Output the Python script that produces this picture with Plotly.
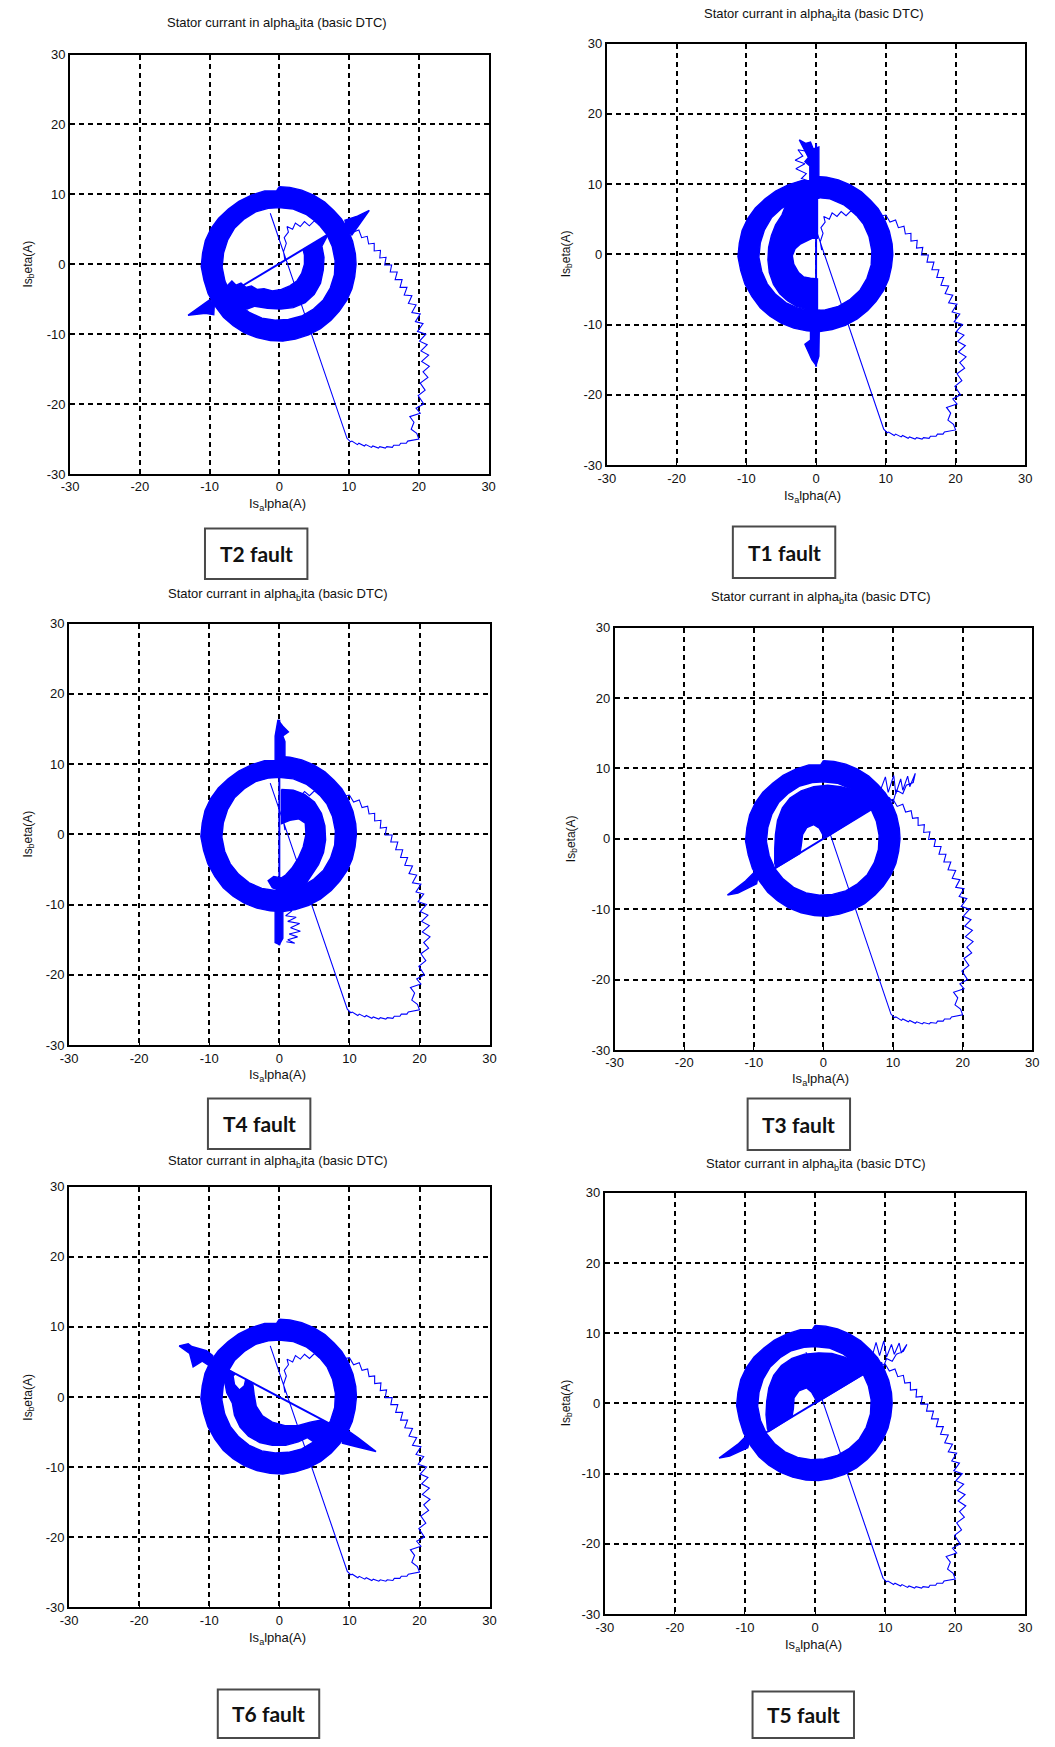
import plotly.graph_objects as go

W, H = 1055, 1747
BLUE = "#0000FF"

TICK_VALS = [-30, -20, -10, 0, 10, 20, 30]
TICK_TEXT = ["-30", "-20", "-10", "0", "10", "20", "30"]
TITLE = "Stator currant in alpha<sub>b</sub>ita (basic DTC)"
XLABEL = "Is<sub>a</sub>lpha(A)"
YLABEL = "Is<sub>b</sub>eta(A)"
FAULTS = ["T2 fault", "T1 fault", "T4 fault", "T3 fault", "T6 fault", "T5 fault"]

# ---- steady-state current band (same flux circle in every case), (alpha, beta) in A ----
RING_OUTER = [(0.0, 11.1), (1.5, 11.0), (3.2, 10.6), (4.9, 9.9), (6.5, 8.9), (7.8, 7.7),
              (8.9, 6.5), (9.8, 5.0), (10.5, 3.3), (10.9, 1.5), (11.0, 0.0), (10.8, -1.8),
              (10.4, -3.5), (9.7, -5.1), (8.6, -6.7), (7.4, -8.0), (5.9, -9.2), (4.2, -10.1),
              (2.3, -10.7), (0.5, -11.0), (-1.3, -10.9), (-3.2, -10.5), (-5.0, -9.8),
              (-6.6, -8.8), (-8.0, -7.6), (-9.2, -6.0), (-10.2, -4.2), (-10.8, -2.3),
              (-11.2, -0.3), (-11.0, 1.6), (-10.6, 3.4), (-9.8, 5.1), (-8.7, 6.6), (-7.3, 7.9),
              (-5.8, 9.0), (-4.0, 9.9), (-2.1, 10.5), (-0.4, 10.5), (0.0, 11.1)]
RING_INNER = [(0.0, 8.1), (2.0, 7.9), (3.9, 7.1), (5.5, 5.9), (6.8, 4.3), (7.6, 2.5), (8.0, 0.5),
              (7.9, -1.5), (7.3, -3.4), (6.3, -5.1), (4.9, -6.4), (3.2, -7.4), (1.3, -7.9),
              (-0.6, -8.0), (-2.5, -7.7), (-4.3, -6.9), (-5.8, -5.7), (-7.0, -4.2), (-7.8, -2.4),
              (-8.2, -0.4), (-8.0, 1.6), (-7.4, 3.5), (-6.4, 5.2), (-5.0, 6.5), (-3.4, 7.5),
              (-1.6, 8.0), (0.0, 8.1)]

# ---- start-up transient (shared) ----
STARTUP = [(0.8, 0.6), (0.6, 1.8), (1.0, 3.0), (0.7, 3.8), (1.3, 4.6), (1.1, 5.4), (1.9, 5.0),
           (2.3, 5.9), (3.0, 5.4), (3.6, 6.1), (4.3, 5.5), (5.0, 6.2), (5.7, 5.6), (6.5, 6.1),
           (7.3, 5.5), (8.2, 6.2), (9.0, 5.4), (10.0, 5.6), (10.6, 4.6), (11.4, 4.9), (11.8, 3.8),
           (12.6, 4.0), (12.8, 2.9), (13.6, 3.0), (13.6, 1.9), (14.5, 2.0), (14.4, 0.9),
           (15.3, 1.0), (15.1, -0.1), (16.1, -0.1), (15.9, -1.1), (16.9, -1.1), (16.6, -2.2),
           (17.6, -2.2), (17.3, -3.3), (18.3, -3.3), (17.9, -4.4), (19.0, -4.5), (18.5, -5.6),
           (19.6, -5.8), (19.0, -6.9), (20.2, -7.1), (19.5, -8.2), (20.6, -8.5), (19.8, -9.6),
           (21.0, -10.0), (20.1, -11.0), (21.2, -11.5), (20.3, -12.4), (21.4, -13.0),
           (20.4, -13.9), (21.5, -14.6), (20.6, -15.4), (21.3, -16.2), (20.2, -17.0),
           (20.9, -18.0), (19.9, -18.8), (20.7, -20.0), (19.6, -20.6), (20.2, -21.3),
           (18.7, -21.8), (19.3, -22.6), (18.9, -23.6), (19.7, -24.2), (20.0, -25.0),
           (19.2, -25.2), (18.4, -25.3), (18.2, -25.6), (17.4, -25.6), (17.2, -25.9),
           (16.4, -25.9), (16.2, -26.2), (15.4, -26.1), (15.2, -26.3), (14.4, -26.1),
           (14.2, -26.3), (13.4, -26.0), (13.2, -26.2), (12.4, -25.8), (12.2, -26.0),
           (11.4, -25.6), (11.2, -25.8), (10.4, -25.3), (10.2, -25.4), (9.7, -24.9), (-1.3, 7.3)]

# ---- T2 open-switch fault ----
T2_BAND = [(6.9, 4.1), (6.1, 2.6), (6.4, 1.0), (6.3, -0.8), (5.9, -2.7), (5.0, -4.3), (3.7, -5.5),
           (2.0, -6.2), (0.2, -6.4), (-1.7, -6.3), (-3.5, -6.0), (-4.6, -6.4), (-5.9, -6.0),
           (-7.1, -4.6), (-7.6, -3.2), (-6.8, -2.4), (-6.2, -3.0), (-5.5, -2.7), (-4.8, -3.3),
           (-4.0, -3.1), (-3.2, -3.6), (-2.2, -3.5), (-1.0, -3.8), (0.3, -3.6), (1.5, -3.1),
           (2.5, -2.4), (3.2, -1.3), (3.6, 0.0), (3.6, 1.3), (3.4, 2.1)]
T2_SPIKE_LOW = [(-13.1, -7.3), (-11.6, -6.2), (-10.0, -5.1), (-9.3, -5.5), (-9.4, -7.2),
                (-10.6, -7.0), (-12.0, -7.2)]
T2_SPIKE_HIGH = [(12.9, 7.7), (11.2, 6.9), (9.4, 6.3), (9.7, 4.8), (10.4, 4.2), (11.6, 5.9)]
T2_LINE = [(-10.0, -5.9), (10.2, 6.2)]

# ---- T1 open-switch fault ----
T1_BAND = [(0.2, 8.4), (-1.5, 8.3), (-3.0, 7.9), (-4.3, 7.1), (-4.9, 5.6), (-5.8, 4.2),
           (-6.4, 2.7), (-6.8, 1.0), (-6.9, -0.8), (-6.7, -2.6), (-6.1, -4.3), (-5.2, -5.6),
           (-4.1, -6.6), (-2.8, -7.4), (-1.3, -7.9), (-0.5, -8.4), (0.2, -8.4), (0.2, -3.5),
           (-0.8, -3.4), (-1.8, -3.2), (-2.5, -2.6), (-3.2, -1.4), (-3.4, -0.2), (-3.0, 0.8),
           (-2.2, 1.5), (-1.2, 2.0), (-0.5, 2.3), (0.2, 2.3)]
T1_BAR_TOP = [(-0.9, 8.0), (-0.9, 12.6), (-1.6, 13.2), (-1.1, 13.8), (-2.4, 16.3), (-1.5, 15.8),
              (-0.8, 16.0), (-0.4, 15.0), (0.4, 15.3), (0.4, 8.0)]
T1_BAR_BOTTOM = [(-0.8, -8.0), (-0.8, -12.2), (-1.6, -12.8), (-1.1, -13.8), (-0.6, -15.0),
                 (0.0, -15.8), (0.4, -14.5), (0.5, -8.0)]
T1_JAG = [(-0.9, 14.6), (-2.6, 14.9), (-1.9, 14.0), (-3.0, 13.4), (-1.6, 12.9), (-2.9, 12.2),
          (-1.4, 11.5), (-2.1, 10.8), (-0.9, 10.4)]
T1_LINE = [(0.0, -16.0), (0.0, 15.8)]

# ---- T4 open-switch fault ----
T4_BAND = [(0.3, 6.4), (2.0, 6.3), (3.6, 5.7), (5.0, 4.6), (6.0, 3.0), (6.5, 1.2), (6.6, -0.8),
           (6.3, -2.6), (5.6, -4.3), (4.6, -5.8), (3.8, -7.0), (2.9, -7.6), (1.2, -8.0),
           (0.3, -8.1), (-1.0, -7.6), (-1.6, -6.6), (-0.8, -6.0), (0.3, -6.2), (0.9, -5.8),
           (1.8, -4.8), (2.7, -3.4), (3.4, -1.8), (3.8, 0.0), (3.7, 1.6), (2.8, 2.2), (1.5, 2.0),
           (0.5, 1.5), (0.3, 1.5)]
T4_BAR_TOP = [(-0.6, 8.5), (-0.6, 14.0), (-0.2, 16.3), (0.5, 15.4), (1.3, 14.6), (0.5, 14.0),
              (0.8, 13.2), (0.8, 8.5)]
T4_BAR_BOTTOM = [(-0.6, -8.5), (-0.6, -15.4), (0.0, -15.7), (0.5, -14.8), (0.5, -8.5)]
T4_JAG = [(0.5, -10.6), (1.8, -10.9), (0.9, -11.6), (2.4, -11.8), (1.2, -12.4), (2.9, -12.7),
          (1.6, -13.3), (3.0, -13.8), (1.4, -14.2), (2.6, -14.6), (1.2, -15.0), (2.2, -15.5),
          (1.0, -15.3)]
T4_LINE = [(0.0, -15.8), (0.0, 16.3)]

# ---- T3 open-switch fault ----
T3_BAND = [(7.0, 4.3), (6.3, 5.2), (5.2, 6.3), (4.0, 7.0), (2.5, 7.4), (0.6, 7.6), (-1.4, 7.4),
           (-3.2, 6.8), (-4.8, 5.8), (-5.9, 4.4), (-6.6, 2.6), (-6.9, 0.6), (-7.0, -1.4),
           (-7.0, -3.5), (-6.8, -4.1), (-3.4, -2.1), (-3.2, -1.0), (-3.0, 0.6), (-2.4, 1.6),
           (-1.4, 2.0), (-0.6, 1.5), (-0.1, 0.6), (0.0, 0.0)]
T3_SPIKE_LOW = [(-13.8, -8.0), (-12.4, -6.9), (-11.2, -6.0), (-10.0, -4.8), (-9.4, -5.3),
                (-9.6, -6.4), (-10.8, -7.0), (-12.3, -7.7)]
T3_JAG = [(8.0, 6.4), (8.9, 8.8), (9.3, 6.6), (10.1, 9.0), (10.4, 6.4), (11.1, 8.5), (11.4, 6.9),
          (12.1, 8.9), (12.4, 7.4), (13.2, 9.3), (12.9, 8.0), (11.9, 7.6), (11.4, 6.4),
          (10.5, 6.9), (10.0, 5.2), (9.2, 6.0), (8.6, 5.4)]
T3_LINE = [(-10.0, -6.0), (9.6, 5.8)]

# ---- T6 open-switch fault ----
T6_BAND = [(-7.3, 3.9), (-7.8, 2.2), (-7.5, 0.6), (-6.7, -0.9), (-6.4, -2.6), (-5.6, -4.3),
           (-4.4, -5.6), (-2.8, -6.5), (-1.0, -6.9), (0.9, -6.9), (2.7, -6.4), (4.0, -5.8),
           (4.9, -6.4), (6.3, -5.1), (7.1, -3.8), (6.0, -3.3), (4.4, -3.6), (2.6, -4.1),
           (0.8, -4.1), (-1.0, -3.6), (-2.4, -2.7), (-3.3, -1.3), (-3.6, 0.4), (-3.8, 2.0),
           (-4.8, 2.5), (-5.0, 1.6), (-5.7, 1.0), (-6.4, 1.8), (-6.6, 3.0), (-6.3, 3.3)]
T6_SPIKE_HIGH = [(-14.3, 7.3), (-13.0, 7.6), (-12.5, 7.2), (-10.4, 6.6), (-9.5, 5.9), (-9.6, 4.2),
                 (-11.0, 5.1), (-12.3, 4.3), (-12.8, 6.2)]
T6_SPIKE_LOW = [(13.8, -7.8), (11.2, -5.8), (9.2, -4.4), (9.0, -6.6), (11.0, -7.1)]
T6_LINE = [(-9.8, 5.2), (9.6, -5.1)]

# ---- T5 open-switch fault ----
T5_BAND = [(7.0, 4.2), (6.5, 5.2), (5.6, 6.0), (4.2, 6.6), (2.4, 7.1), (0.5, 7.2), (-1.5, 7.0),
           (-3.3, 6.4), (-4.8, 5.4), (-5.9, 4.0), (-6.6, 2.2), (-6.9, 0.3), (-7.0, -1.6),
           (-6.8, -3.6), (-6.6, -4.0), (-3.3, -1.9), (-3.1, -0.8), (-3.0, 0.8), (-2.3, 1.8),
           (-1.2, 2.2), (-0.5, 1.6), (0.0, 0.7), (0.2, 0.1)]
T5_SPIKE_LOW = [(-13.7, -7.8), (-12.2, -6.7), (-11.0, -5.8), (-9.9, -4.7), (-9.3, -5.2),
                (-9.6, -6.3), (-10.8, -6.9), (-12.2, -7.5)]
T5_JAG = [(8.1, 6.6), (8.7, 8.7), (9.2, 6.8), (9.8, 8.9), (10.2, 6.6), (10.9, 8.4), (11.3, 7.0),
          (12.0, 8.6), (12.3, 7.2), (13.1, 8.4), (12.6, 7.4), (11.6, 7.0), (11.0, 6.0),
          (10.2, 6.4), (9.6, 4.8), (9.0, 5.6)]
T5_LINE = [(-9.8, -5.8), (9.6, 5.8)]

# fills: solid blue regions; lines: thin trajectory strokes
PANEL_PIECES = [
    dict(fills=[T2_BAND, T2_SPIKE_LOW, T2_SPIKE_HIGH], lines=[T2_LINE], jags=[]),
    dict(fills=[T1_BAND, T1_BAR_TOP, T1_BAR_BOTTOM], lines=[T1_LINE], jags=[T1_JAG]),
    dict(fills=[T4_BAND, T4_BAR_TOP, T4_BAR_BOTTOM], lines=[T4_LINE], jags=[T4_JAG]),
    dict(fills=[T3_BAND, T3_SPIKE_LOW], lines=[T3_LINE], jags=[T3_JAG]),
    dict(fills=[T6_BAND, T6_SPIKE_HIGH, T6_SPIKE_LOW], lines=[T6_LINE], jags=[]),
    dict(fills=[T5_BAND, T5_SPIKE_LOW], lines=[T5_LINE], jags=[T5_JAG]),
]

# page layout in pixels: plot frame (x0, x1, y0, y1), text anchors, caption box
PANEL_LAYOUT = [
    dict(frame=(62, 487, 48, 471), title=(272, 17), xlab=(273, 502), ylab=(20, 259), box=(199, 303, 526, 577)),
    dict(frame=(607, 1032, 37, 462), title=(817, 8), xlab=(816, 494), ylab=(566, 249), box=(735, 839, 524, 576)),
    dict(frame=(61, 488, 622, 1047), title=(273, 593), xlab=(273, 1078), ylab=(20, 834), box=(202, 306, 1101, 1152)),
    dict(frame=(615, 1039, 626, 1052), title=(825, 596), xlab=(824, 1082), ylab=(571, 839), box=(750, 854, 1101, 1153)),
    dict(frame=(61, 488, 1190, 1614), title=(273, 1165), xlab=(273, 1646), ylab=(20, 1402), box=(212, 315, 1697, 1746)),
    dict(frame=(605, 1032, 1196, 1621), title=(819, 1168), xlab=(817, 1653), ylab=(566, 1408), box=(755, 858, 1699, 1746)),
]


def split(pairs):
    return [p[0] for p in pairs], [p[1] for p in pairs]


def band_with_hole(outer, inner):
    # outer boundary clockwise, then inner boundary counter-clockwise -> hollow ring
    return list(outer) + list(reversed(inner)) + [outer[0]]


def px_x(v):
    return v / W


def px_y(v):
    return 1 - v / H


fig = go.Figure()
layout_axes = {}
annotations = []
shapes = []
FONT = "Liberation Sans, Arial, sans-serif"

for k, (pieces, pl) in enumerate(zip(PANEL_PIECES, PANEL_LAYOUT)):
    sfx = "" if k == 0 else str(k + 1)
    xa, ya = "x" + sfx, "y" + sfx

    def add(pairs, fill, width):
        a, b = split(pairs)
        fig.add_trace(go.Scatter(
            x=a, y=b, xaxis=xa, yaxis=ya, mode="lines",
            fill="toself" if fill else None,
            fillcolor=BLUE if fill else None,
            line=dict(color=BLUE, width=width),
            showlegend=False, hoverinfo="skip"))

    add(STARTUP, False, 1.1)
    add(band_with_hole(RING_OUTER, RING_INNER), True, 1.4)
    for poly in pieces["fills"]:
        add(poly + [poly[0]], True, 1.4)
    for ln in pieces["lines"]:
        add(ln, False, 2.0)
    for jg in pieces["jags"]:
        add(jg, False, 1.1)

    x0, x1, y0, y1 = pl["frame"]
    common = dict(range=[-30, 30], tickvals=TICK_VALS, ticktext=TICK_TEXT,
                  showgrid=True, gridcolor="black", gridwidth=1.5, griddash="5px,4px",
                  zeroline=False, showline=True, mirror=True, linecolor="black", linewidth=1.8,
                  ticks="inside", ticklen=4, tickcolor="black",
                  tickfont=dict(family=FONT, size=13, color="#111"), fixedrange=True)
    layout_axes["xaxis" + sfx] = dict(common, domain=[px_x(x0), px_x(x1)], anchor=ya)
    layout_axes["yaxis" + sfx] = dict(common, domain=[px_y(y1), px_y(y0)], anchor=xa)

    tx, ty = pl["title"]
    annotations.append(dict(text=TITLE, x=px_x(tx), y=px_y(ty), xref="paper", yref="paper",
                            showarrow=False, xanchor="center", yanchor="middle",
                            font=dict(family=FONT, size=13, color="#111")))
    lx, ly = pl["xlab"]
    annotations.append(dict(text=XLABEL, x=px_x(lx), y=px_y(ly), xref="paper", yref="paper",
                            showarrow=False, xanchor="center", yanchor="middle",
                            font=dict(family=FONT, size=13, color="#111")))
    vx, vy = pl["ylab"]
    annotations.append(dict(text=YLABEL, x=px_x(vx), y=px_y(vy), xref="paper", yref="paper",
                            showarrow=False, xanchor="center", yanchor="middle", textangle=-90,
                            font=dict(family=FONT, size=12, color="#111")))
    bx0, bx1, by0, by1 = pl["box"]
    shapes.append(dict(type="rect", xref="paper", yref="paper",
                       x0=px_x(bx0), x1=px_x(bx1), y0=px_y(by1), y1=px_y(by0),
                       line=dict(color="#4a4a4a", width=2), fillcolor="white"))
    annotations.append(dict(text="<b>" + FAULTS[k] + "</b>", x=px_x((bx0 + bx1) / 2),
                            y=px_y((by0 + by1) / 2), xref="paper", yref="paper",
                            showarrow=False, xanchor="center", yanchor="middle",
                            font=dict(family="Lato, Open Sans, sans-serif", size=21, color="#111")))

fig.update_layout(
    width=W, height=H, margin=dict(l=0, r=0, t=0, b=0),
    paper_bgcolor="white", plot_bgcolor="white",
    annotations=annotations, shapes=shapes, **layout_axes)

fig.write_html("out.html")
